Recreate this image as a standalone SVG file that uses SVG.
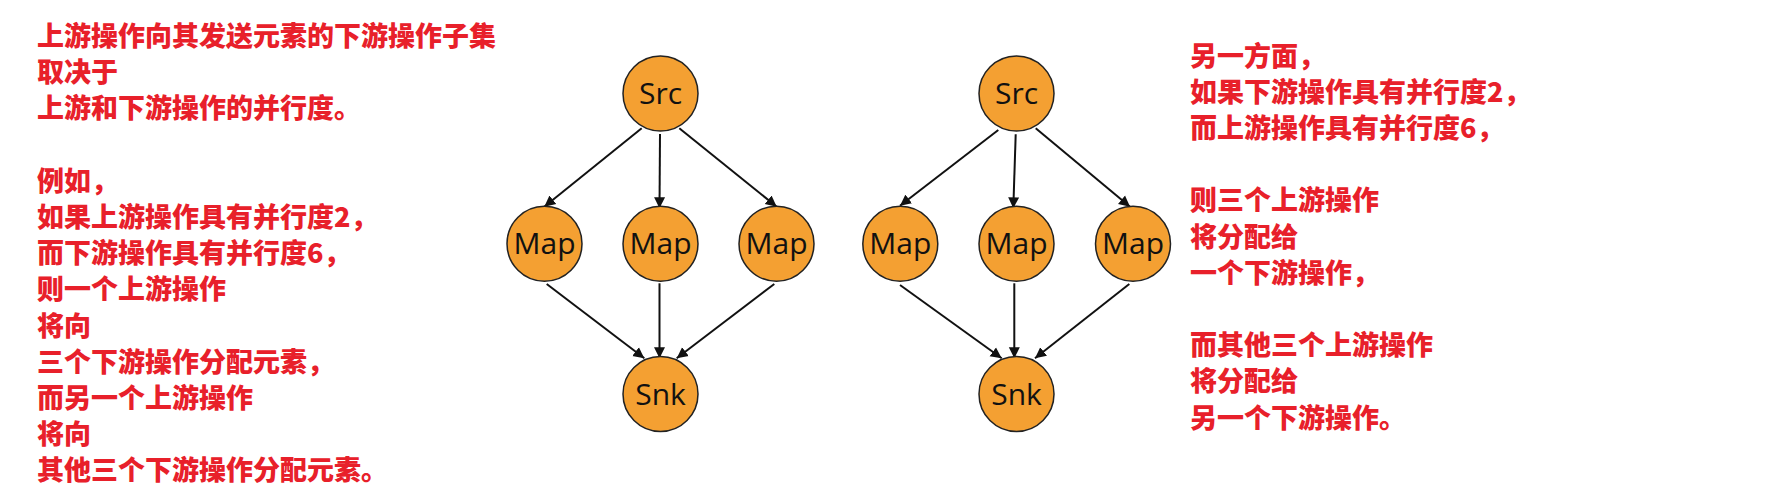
<svg xmlns="http://www.w3.org/2000/svg" width="1767" height="488" viewBox="0 0 1767 488">
<style>
.t{font-family:"Noto Sans CJK SC","Noto Sans",sans-serif;font-weight:900;font-size:27px;fill:#E8202A}
.n circle{fill:#F4A032;stroke:#222;stroke-width:1.5}
.n text{font-family:"Open Sans","Noto Sans",sans-serif;font-size:30px;fill:#111;text-anchor:middle}
.e line{stroke:#111;stroke-width:2;marker-end:url(#ah)}
</style>
<defs>
<marker id="ah" markerUnits="userSpaceOnUse" markerWidth="12" markerHeight="12" refX="11" refY="6" orient="auto">
<path d="M0,0.5 L11,6 L0,11.5 Z" fill="#111"/>
</marker>
</defs>
<rect width="1767" height="488" fill="#fff"/>
<g id="text-left">
<text class="t" x="37" y="46"><tspan x="37" y="46">上游操作向其发送元素的下游操作子集</tspan><tspan x="37" y="82.2">取决于</tspan><tspan x="37" y="118.4">上游和下游操作的并行度。</tspan><tspan x="37" y="190.8">例如，</tspan><tspan x="37" y="227">如果上游操作具有并行度2，</tspan><tspan x="37" y="263.2">而下游操作具有并行度6，</tspan><tspan x="37" y="299.4">则一个上游操作</tspan><tspan x="37" y="335.6">将向</tspan><tspan x="37" y="371.8">三个下游操作分配元素，</tspan><tspan x="37" y="408">而另一个上游操作</tspan><tspan x="37" y="444.2">将向</tspan><tspan x="37" y="480.4">其他三个下游操作分配元素。</tspan></text>
</g>
<g id="text-right">
<text class="t" x="1190" y="65.5"><tspan x="1190" y="65.5">另一方面，</tspan><tspan x="1190" y="101.7">如果下游操作具有并行度2，</tspan><tspan x="1190" y="137.9">而上游操作具有并行度6，</tspan><tspan x="1190" y="210.3">则三个上游操作</tspan><tspan x="1190" y="246.5">将分配给</tspan><tspan x="1190" y="282.7">一个下游操作，</tspan><tspan x="1190" y="355.1">而其他三个上游操作</tspan><tspan x="1190" y="391.3">将分配给</tspan><tspan x="1190" y="427.5">另一个下游操作。</tspan></text>
</g>
<g id="connectors" class="e">
<line x1="641.7" y1="128.3" x2="544.3" y2="206.7"/>
<line x1="660" y1="134" x2="659.5" y2="208.3"/>
<line x1="679.3" y1="128.3" x2="776.7" y2="206.7"/>
<line x1="546.7" y1="284" x2="644.3" y2="358.3"/>
<line x1="659.5" y1="283.3" x2="659.5" y2="358.3"/>
<line x1="774.3" y1="284" x2="676.7" y2="358.3"/>
<line x1="998.3" y1="130" x2="900" y2="205.7"/>
<line x1="1015.7" y1="134.3" x2="1013.3" y2="208.3"/>
<line x1="1035.7" y1="128.3" x2="1130" y2="206.7"/>
<line x1="900" y1="285" x2="1001.7" y2="358.3"/>
<line x1="1014.3" y1="283.3" x2="1014.3" y2="358.3"/>
<line x1="1129.3" y1="284" x2="1035" y2="358.3"/>
</g>
<g id="a-src" class="n"><circle cx="660.5" cy="93.5" r="37.5"/><text x="660.5" y="104">Src</text></g>
<g id="a-map1" class="n"><circle cx="544.5" cy="243.7" r="37.5"/><text x="544.5" y="254.2">Map</text></g>
<g id="a-map2" class="n"><circle cx="660.5" cy="243.7" r="37.5"/><text x="660.5" y="254.2">Map</text></g>
<g id="a-map3" class="n"><circle cx="776.5" cy="243.7" r="37.5"/><text x="776.5" y="254.2">Map</text></g>
<g id="a-snk" class="n"><circle cx="660.5" cy="394" r="37.5"/><text x="660.5" y="404.5">Snk</text></g>
<g id="b-src" class="n"><circle cx="1016.5" cy="93.5" r="37.5"/><text x="1016.5" y="104">Src</text></g>
<g id="b-map1" class="n"><circle cx="900.3" cy="243.7" r="37.5"/><text x="900.3" y="254.2">Map</text></g>
<g id="b-map2" class="n"><circle cx="1016.5" cy="243.7" r="37.5"/><text x="1016.5" y="254.2">Map</text></g>
<g id="b-map3" class="n"><circle cx="1133" cy="243.7" r="37.5"/><text x="1133" y="254.2">Map</text></g>
<g id="b-snk" class="n"><circle cx="1016.5" cy="394" r="37.5"/><text x="1016.5" y="404.5">Snk</text></g>
</svg>
